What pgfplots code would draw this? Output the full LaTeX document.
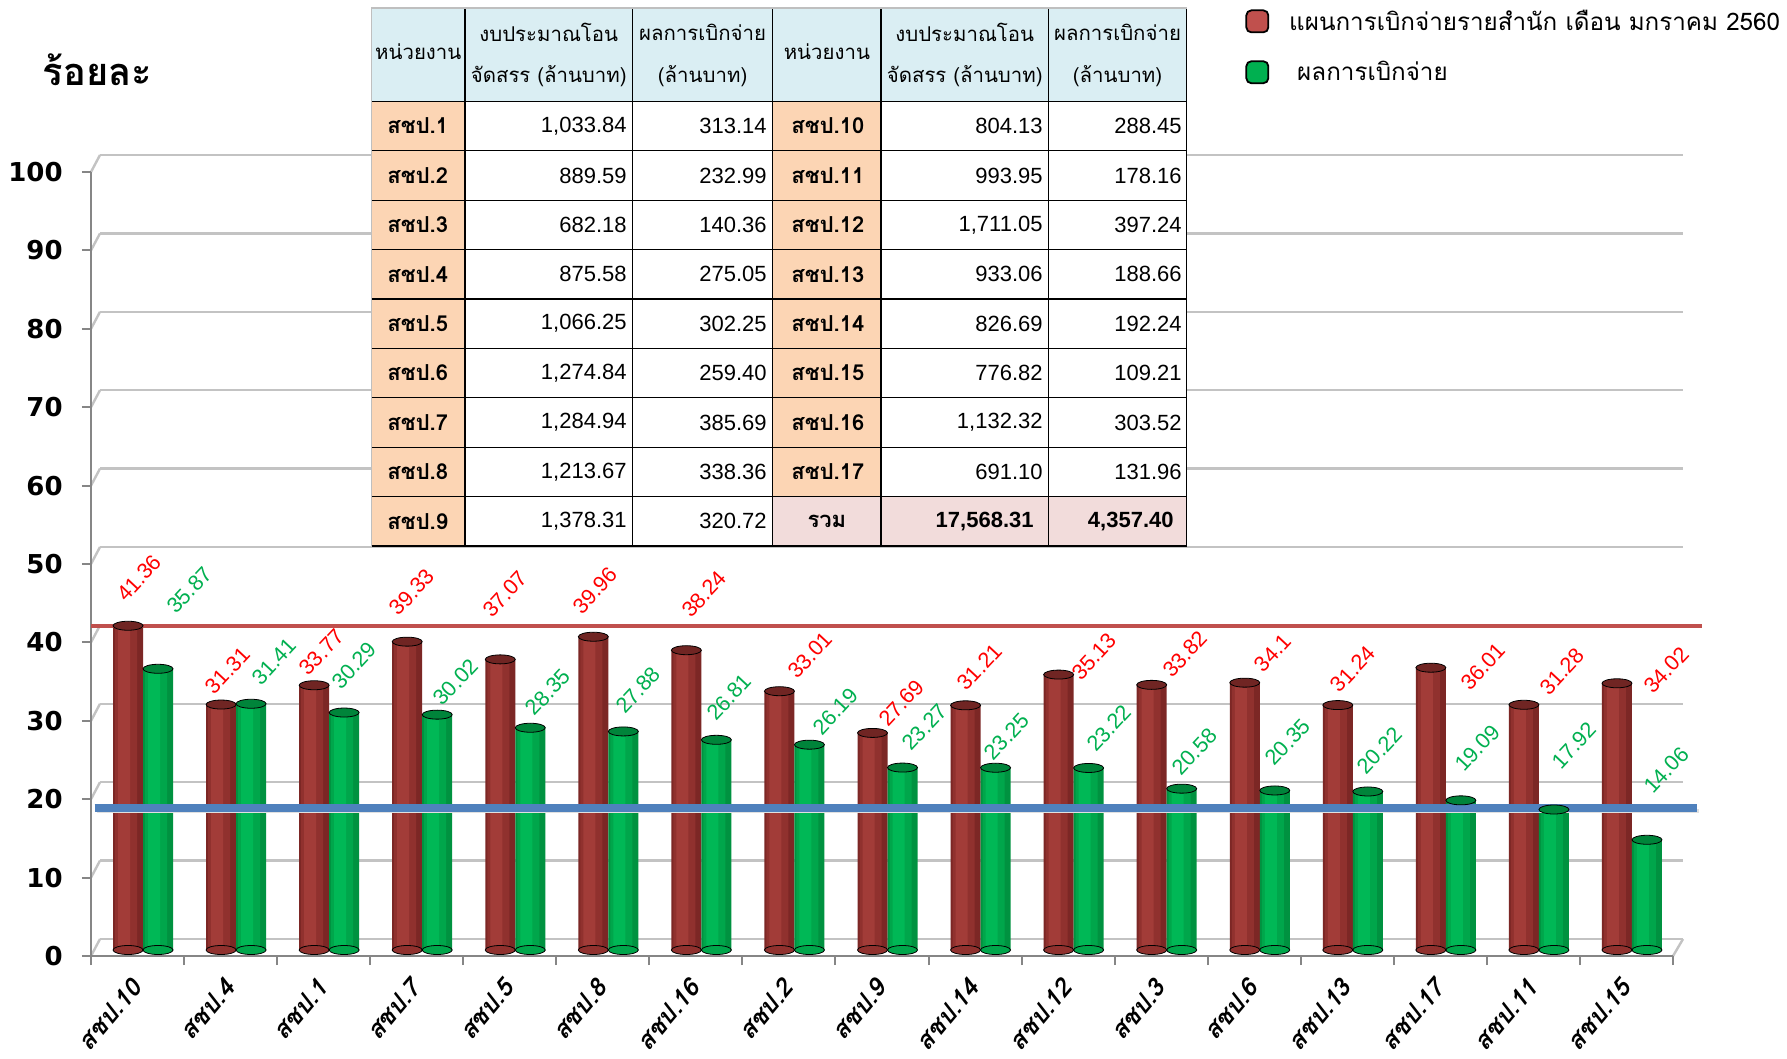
\documentclass[border=0pt]{standalone}
\usepackage{fontspec}
\setmainfont{Liberation Sans}
\newfontfamily\thai[Script=Thai]{Loma}
\newfontfamily\djv{DejaVu Sans}
\usepackage{pgfplots}
\pgfplotsset{compat=1.18}
\usepackage{pgfplotstable}

\definecolor{hdrblue}{RGB}{218,238,243}
\definecolor{peach}{RGB}{252,213,180}
\definecolor{pinkc}{RGB}{242,220,219}
\definecolor{gridc}{RGB}{195,195,195}
\definecolor{axc}{RGB}{134,134,134}
\definecolor{planred}{RGB}{192,80,77}
\definecolor{resgreen}{RGB}{0,176,80}
\definecolor{avgblue}{RGB}{79,129,189}
\definecolor{r1}{RGB}{124,39,37}
\definecolor{r2}{RGB}{144,49,46}
\definecolor{r3}{RGB}{162,60,56}
\definecolor{rcap}{RGB}{112,37,35}
\definecolor{g1}{RGB}{0,146,64}
\definecolor{g2}{RGB}{0,166,75}
\definecolor{g3}{RGB}{0,184,86}
\definecolor{gcap}{RGB}{0,132,58}

% category order as in the chart: plan %, result %, label positions
\pgfplotstableread{
x z plan res rx ry gx gy
0 0 41.36 35.87 -0.04 47.45 0.50 45.92
1 0 31.31 31.41 0.91 35.63 1.41 36.77
2 0 33.77 30.29 1.92 38.01 2.27 36.26
3 0 39.33 30.02 2.89 45.66 3.36 34.18
4 0 37.07 28.35 3.89 45.41 4.35 32.91
5 0 39.96 27.88 4.86 45.83 5.32 33.16
6 0 38.24 26.81 6.03 45.41 6.30 32.27
7 0 33.01 26.19 7.17 37.63 7.44 30.40
8 0 27.69 23.27 8.15 31.51 8.40 28.44
9 0 31.21 23.25 8.99 36.10 9.28 27.21
10 0 35.13 23.22 10.22 37.41 10.38 28.32
11 0 33.82 20.58 11.20 37.76 11.30 25.29
12 0 34.1 20.35 12.14 37.88 12.30 26.53
13 0 31.24 20.22 13.00 35.84 13.29 25.42
14 0 36.01 19.09 14.40 36.14 14.34 25.77
15 0 31.28 17.92 15.25 35.50 15.38 26.06
16 0 34.02 14.06 16.37 35.71 16.37 22.96
}\chartdata

\newcommand\numf{\fontsize{11pt}{11pt}\selectfont}
\newcommand\thaib{\thai\bfseries\fontsize{11pt}{11pt}\selectfont}
\newcommand\thaih{\thai\fontsize{10.2pt}{10.2pt}\selectfont}
\newcommand\lblfont{\fontsize{10.8pt}{10.8pt}\selectfont}

% one table row: k, name, budget, paid, name, budget, paid
\newcommand{\trow}[7]{%
  \pgfmathsetmacro\ry{101.4+49.4*(#1-0.5)}
  \node[anchor=west, font=\thaib, inner sep=0pt] at (387,\ry) {#2};
  \node[anchor=east, font=\numf, inner sep=0pt] at (627,\ry) {#3};
  \node[anchor=east, font=\numf, inner sep=0pt] at (767,\ry) {#4};
  \node[anchor=west, font=\thaib, inner sep=0pt] at (791,\ry) {#5};
  \node[anchor=east, font=\numf, inner sep=0pt] at (1043,\ry) {#6};
  \node[anchor=east, font=\numf, inner sep=0pt] at (1182,\ry) {#7};
}

\begin{document}
\begin{tikzpicture}
\path[use as bounding box, fill=white] (0,0) rectangle (893.5pt,-529.5pt);

% back wall grid
\begin{axis}[at={(50pt,-469.5pt)}, anchor=south west, scale only axis,
  width=791.5pt, height=392pt, xmin=0, xmax=1, ymin=0, ymax=100,
  ytick={0,10,...,100}, xtick=\empty, yticklabels={}, major tick length=0pt,
  axis line style={draw=none}, ymajorgrids,
  major grid style={gridc, line width=1.2pt}]
\addplot[draw=none] coordinates {(0.5,50)};
\end{axis}

\begin{scope}[x=0.5pt,y=-0.5pt]
\foreach \t in {0,...,10}
  \draw[gridc, line width=1.2pt] (91,{956-78.4*\t}) -- (100,{939-78.4*\t});
\draw[gridc, line width=1.2pt] (1673,956) -- (1683,939);
\end{scope}

% front axis: ticks and labels
\begin{axis}[at={(45.5pt,-478pt)}, anchor=south west, scale only axis,
  width=791pt, height=392pt, xmin=-0.5, xmax=16.5, ymin=0, ymax=100,
  axis x line*=bottom, axis y line*=left,
  axis line style={axc, line width=1pt, -},
  ytick={0,10,...,100}, tick align=outside, major tick length=4.5pt,
  every tick/.style={axc, line width=1pt},
  xtick={0,...,16},
  xticklabels={สชป.10,สชป.4,สชป.1,สชป.7,สชป.5,สชป.8,สชป.16,สชป.2,สชป.9,สชป.14,สชป.12,สชป.3,สชป.6,สชป.13,สชป.17,สชป.11,สชป.15},
  xtick style={draw=none},
  extra x ticks={-0.5,0.5,...,16.5}, extra x tick labels={},
  extra x tick style={xtick style={draw=axc}},
  /pgf/number format/assume math mode=true,
  yticklabel style={font=\djv\bfseries\fontsize{13pt}{13pt}\selectfont,
    anchor=east, inner sep=0pt, xshift=-9.5pt},
  xticklabel style={yshift=-9pt, xshift=-0.5pt,
    font=\thai\bfseries\itshape\fontsize{12.5pt}{12.5pt}\selectfont,
    rotate=50, anchor=east, inner sep=0pt},
  ylabel={\thai\bfseries\fontsize{19pt}{19pt}\selectfont ร้อยละ},
  every axis y label/.style={at={(rel axis cs:0.004,1.13)}, anchor=center}]
\addplot[draw=none] coordinates {(0,0)};
\end{axis}

% bars, reference lines, value labels, legend
\begin{axis}[at={(48.25pt,-475pt)}, anchor=south west, scale only axis,
  width=791pt, height=392pt, xmin=-0.5, xmax=16.5, ymin=0, ymax=100,
  hide axis, clip=false,
  legend style={at={(axis description cs:0.726,1.205)}, anchor=north west,
    draw=none, fill=none, inner sep=0pt,
    font=\thai\fontsize{12.1pt}{14pt}\selectfont, row sep=10pt,
    cells={anchor=west},
    /tikz/every odd column/.append style={column sep=8pt}},
  legend image code/.code={\draw[#1, draw=black, line width=0.9pt,
    rounded corners=2.5pt] (0pt,-5.5pt) rectangle (11pt,5.5pt);}]
% plan bars (cylinder look from three strips), bottom and top caps
\addplot[only marks, mark=*, mark size=7.5pt,
  mark options={yscale=0.3, xshift=-7.5pt, fill=r2, draw=none}, forget plot]
  table[x=x, y=z] {\chartdata};
\addplot[ybar, bar width=15pt, bar shift=-7.5pt, draw=none, fill=r1, forget plot]
  table[x=x, y=plan] {\chartdata};
\addplot[ybar, bar width=11pt, bar shift=-8.5pt, draw=none, fill=r2, forget plot]
  table[x=x, y=plan] {\chartdata};
\addplot[ybar, bar width=6pt, bar shift=-9.5pt, draw=none, fill=r3, forget plot]
  table[x=x, y=plan] {\chartdata};
\addplot[only marks, mark=*, mark size=7.5pt,
  mark options={yscale=0.3, xshift=-7.5pt, fill=rcap, draw=none}, forget plot]
  table[x=x, y=plan] {\chartdata};
% result bars
\addplot[only marks, mark=*, mark size=7.5pt,
  mark options={yscale=0.3, xshift=7.5pt, fill=g2, draw=none}, forget plot]
  table[x=x, y=z] {\chartdata};
\addplot[ybar, bar width=15pt, bar shift=7.5pt, draw=none, fill=g1, forget plot]
  table[x=x, y=res] {\chartdata};
\addplot[ybar, bar width=11pt, bar shift=6.5pt, draw=none, fill=g2, forget plot]
  table[x=x, y=res] {\chartdata};
\addplot[ybar, bar width=6pt, bar shift=5.5pt, draw=none, fill=g3, forget plot]
  table[x=x, y=res] {\chartdata};
\addplot[only marks, mark=*, mark size=7.5pt,
  mark options={yscale=0.3, xshift=7.5pt, fill=gcap, draw=none}, forget plot]
  table[x=x, y=res] {\chartdata};

\addplot[planred, line width=2pt, forget plot] coordinates {(-0.56,41.36) (16.75,41.36)};
\addplot[black!12, line width=2pt, forget plot] coordinates {(-0.50,17.75) (16.72,17.75)};
\addplot[avgblue, line width=4pt, forget plot] coordinates {(-0.52,18.1) (16.70,18.1)};

\addplot[draw=none, mark=none, nodes near coords, point meta=explicit symbolic,
  nodes near coords style={rotate=47, anchor=center, text=red, font=\lblfont},
  forget plot] table[x=rx, y=ry, meta=plan] {\chartdata};
\addplot[draw=none, mark=none, nodes near coords, point meta=explicit symbolic,
  nodes near coords style={rotate=47, anchor=center, text=resgreen, font=\lblfont},
  forget plot] table[x=gx, y=gy, meta=res] {\chartdata};

\addlegendimage{fill=planred}
\addlegendentry{แผนการเบิกจ่ายรายสำนัก เดือน มกราคม 2560}
\addlegendimage{fill=resgreen}
\addlegendentry{\hspace*{4pt}ผลการเบิกจ่าย}
\end{axis}

% budget table
\begin{scope}[x=0.5pt,y=-0.5pt]
\fill[hdrblue] (371.5,8) rectangle (1186.5,101.4);
\fill[peach] (371.5,101.4) rectangle (465,546);
\fill[peach] (772.7,101.4) rectangle (881,496.6);
\fill[pinkc] (772.7,496.6) rectangle (1186.5,546);
\fill[white] (465,101.4) rectangle (772.7,546);
\fill[white] (881,101.4) rectangle (1186.5,496.6);
\foreach \yy in {101.4,150.8,200.2,249.6,299,348.4,397.8,447.2,496.6,546}
  \draw[black, line width=0.6pt] (371.5,\yy) -- (1186.5,\yy);
\foreach \xx in {465,632.5,772.7,881,1048.5,1186.5}
  \draw[black, line width=0.6pt] (\xx,8) -- (\xx,546);
\draw[gray!50, line width=0.6pt] (371.5,546) -- (371.5,8) -- (1186.5,8);

\node[font=\thaih, inner sep=0pt] at (418.25,52) {หน่วยงาน};
\node[font=\thaih, inner sep=0pt] at (548.75,32) {งบประมาณโอน};
\node[font=\thaih, inner sep=0pt] at (548.75,76) {จัดสรร (ล้านบาท)};
\node[font=\thaih, inner sep=0pt] at (702.6,32) {ผลการเบิกจ่าย};
\node[font=\thaih, inner sep=0pt] at (702.6,76) {(ล้านบาท)};
\node[font=\thaih, inner sep=0pt] at (826.85,52) {หน่วยงาน};
\node[font=\thaih, inner sep=0pt] at (964.75,32) {งบประมาณโอน};
\node[font=\thaih, inner sep=0pt] at (964.75,76) {จัดสรร (ล้านบาท)};
\node[font=\thaih, inner sep=0pt] at (1117.5,32) {ผลการเบิกจ่าย};
\node[font=\thaih, inner sep=0pt] at (1117.5,76) {(ล้านบาท)};

\trow{1}{สชป.1}{1,033.84}{313.14}{สชป.10}{804.13}{288.45}
\trow{2}{สชป.2}{889.59}{232.99}{สชป.11}{993.95}{178.16}
\trow{3}{สชป.3}{682.18}{140.36}{สชป.12}{1,711.05}{397.24}
\trow{4}{สชป.4}{875.58}{275.05}{สชป.13}{933.06}{188.66}
\trow{5}{สชป.5}{1,066.25}{302.25}{สชป.14}{826.69}{192.24}
\trow{6}{สชป.6}{1,274.84}{259.40}{สชป.15}{776.82}{109.21}
\trow{7}{สชป.7}{1,284.94}{385.69}{สชป.16}{1,132.32}{303.52}
\trow{8}{สชป.8}{1,213.67}{338.36}{สชป.17}{691.10}{131.96}
\node[anchor=west, font=\thaib, inner sep=0pt] at (387,521.3) {สชป.9};
\node[anchor=east, font=\numf, inner sep=0pt] at (627,521.3) {1,378.31};
\node[anchor=east, font=\numf, inner sep=0pt] at (767,521.3) {320.72};
\node[font=\thaib, inner sep=0pt] at (826.85,521.3) {รวม};
\node[anchor=east, font=\numf\bfseries, inner sep=0pt] at (1034,521.3) {17,568.31};
\node[anchor=east, font=\numf\bfseries, inner sep=0pt] at (1174,521.3) {4,357.40};
\end{scope}
\end{tikzpicture}
\end{document}
